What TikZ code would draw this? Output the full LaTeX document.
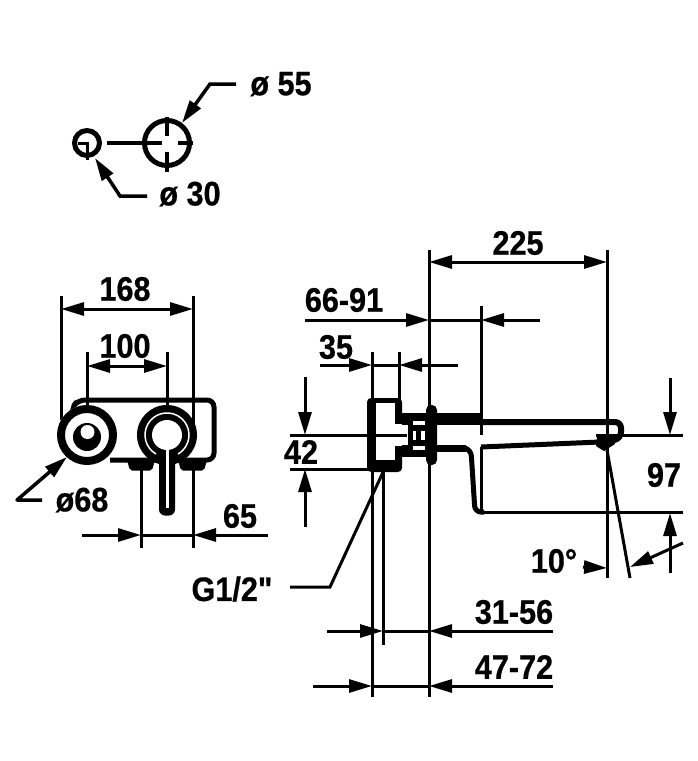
\documentclass[tikz,border=0pt]{standalone}
\usepackage{fontspec}
\newfontfamily\dimf{Liberation Sans}[FakeStretch=0.9,BoldFeatures={FakeBold=0.6}]
\usetikzlibrary{arrows.meta}
\tikzset{
  dimline/.style={line width=3pt,line cap=butt},
  tip/.style={-{Triangle[length=23pt,width=13pt]}},
  tips/.style={{Triangle[length=23pt,width=13pt]}-{Triangle[length=23pt,width=13pt]}},
  lbl/.style={font=\fontsize{34}{34}\dimf\bfseries,inner sep=0pt,text=black},
}
\begin{document}
\begin{tikzpicture}[x=1pt,y=-1pt]
\useasboundingbox (0,0) rectangle (698,761);
\fill[white] (0,0) rectangle (698,761);
% --- top: hole pattern
\coordinate (bc) at (167,143); \coordinate (sc) at (87,143);
\coordinate (k1) at (210,84); \coordinate (k2) at (236,84);
\coordinate (k3) at (120,196); \coordinate (k4) at (147,196);
\draw[line width=5pt] (bc) circle (22.5);
\draw[line width=5pt] (sc) circle (12.5);
\draw[line width=3.5pt] (107,143) -- (162,143);
\draw[line width=3.5pt] (178,143) -- (193,143);
\draw[line width=3.5pt] (167,117) -- (167,136);
\draw[line width=3.5pt] (167,152) -- (167,172);
\draw[dimline] (78,143) -- (88.5,143) (87,143) -- (87,160);
\draw[line width=3.5pt,tip] (k2) -- (k1) -- (182,123);
\draw[line width=3.5pt,tip] (k4) -- (k3) -- (95,158);
\node[lbl] (d55) at (281,84) {ø 55};
\node[lbl] (d30) at (190,194) {ø 30};
% --- left view
\draw[dimline] (61,296) -- (61,420);
\draw[dimline] (193,296) -- (193,425);
\draw[dimline] (87,352) -- (87,405);
\draw[dimline] (167,352) -- (167,410);
\draw[dimline,tips] (61,309) -- (193,309);
\draw[dimline,tips] (87,366) -- (167,366);
\node[lbl] (t168) at (125,289) {168};
\node[lbl] (t100) at (125,346) {100};
% body
\draw[line width=5pt,line join=round,rounded corners=7pt] (72,415) -- (72,408) -- (78,400) -- (214,400) -- (214,460) -- (110,460);
\fill[rounded corners=2pt] (127,460) -- (155,460) -- (152,470.5) -- (130,470.5) -- cycle;
\fill[rounded corners=2pt] (178,460) -- (207,460) -- (204,470.5) -- (181,470.5) -- cycle;
% left circle
\fill[white] (87,435) circle (30);
\draw[line width=8pt] (87,435) circle (26);
\fill (87,437) circle (14);
\fill[white] (87.5,432) circle (7);
% right circle + handle
\fill (167,435) circle (30);
\draw[white,line width=1.5pt] (156,454) arc[start angle=120,end angle=420,radius=22] ;
\fill[rounded corners=6pt] (159,450) -- (159,515.5) -- (175,515.5) -- (175,450) -- cycle;
\fill[white] (167,435) circle (15);
\fill[white] (165.5,445) rectangle (168.5,508);
% extension
\draw[dimline] (141,465) -- (141,548);
\draw[dimline] (193,465) -- (193,548);
\draw[dimline,tip] (82,535) -- (141,535);
\draw[dimline,tip] (268,535) -- (193,535);
\draw[dimline] (141,535) -- (193,535);
\node[lbl] (t65) at (240,516) {65};
\draw[line width=3.5pt,line join=round,tip] (42,500) -- (17,500) -- (67,457);
\node[lbl] (t68) at (82,500) {ø68};
% --- right view
\draw[dimline] (429,250) -- (429,697);
\draw[dimline] (607,250) -- (607,578);
\draw[dimline] (481,306) -- (481,435);
\draw[dimline] (372,352) -- (372,697);
\draw[dimline] (399,352) -- (399,405);
\draw[dimline] (383,470) -- (383,645);
\draw[dimline,tips] (429,262) -- (607,262);
\node[lbl] (t225) at (518,243) {225};
\draw[dimline,tip] (305,320) -- (429,320);
\draw[dimline,tip] (540,320) -- (481,320);
\draw[dimline] (429,320) -- (481,320);
\node[lbl] (t6691) at (344,300) {66-91};
\draw[dimline,tip] (320,365) -- (372,365);
\draw[dimline,tip] (458,365) -- (399,365);
\draw[dimline] (372,365) -- (399,365);
\node[lbl] (t35) at (336,347) {35};
\draw[dimline] (290,435) -- (372,435);
\draw[dimline] (290,469) -- (372,469);
\draw[dimline,tip] (305,377) -- (305,435);
\draw[dimline,tip] (305,527) -- (305,469);
\node[lbl] (t42) at (301,452) {42};
% wall body
\fill[rounded corners=4pt] (367,398) rectangle (402,472);
\fill[white] (376,403) rectangle (395,460);
\fill[white] (395,424) rectangle (402.5,446);
\draw[dimline] (372,435) -- (407,435);
% connection
\fill (402,413) rectangle (481,425);
\fill (402,445) rectangle (426,457);
\fill (408,413) rectangle (426,457);
\fill (437,445) rectangle (466,452);
\fill[white] (413,421) rectangle (425,425);
\fill[white] (412.5,431) rectangle (415.5,440);
\fill[white] (421,431) rectangle (425,440);
\fill[white] (413,446) rectangle (425,450);
\fill[rounded corners=5pt] (426,405) rectangle (437,465);
% spout
\draw[line width=6pt,rounded corners=6pt] (481,422) -- (621,422) -- (621,438) -- (607,442);
\draw[line width=5pt] (481,447) -- (600,442);
\fill (597,437) -- (612,434) -- (615,444) -- (604,451) -- (596,446) -- cycle;
\draw[line width=5pt,rounded corners=6pt] (465,448) -- (471,450) -- (475,512) -- (484,512);
\draw[dimline] (481,447) -- (481,512);
\draw[dimline] (596,435) -- (683,435);
\draw[dimline] (482,512) -- (683,512);
\draw[dimline,tip] (670,378) -- (670,435);
\draw[dimline,tip] (670,573) -- (670,513);
\node[lbl] (t97) at (664,475) {97};
\draw[dimline] (607,450) -- (630,578);
\draw[dimline,tip] (683,543) -- (630,567);
\draw[dimline,tip] (583,567) -- (607,568);
\node[lbl] (t10) at (554,561) {10°};
\draw[dimline,tip] (327,631) -- (383,631);
\draw[dimline,tip] (553,631) -- (429,631);
\draw[dimline] (383,631) -- (429,631);
\node[lbl] (t3156) at (514,612) {31-56};
\draw[dimline,tip] (313,686) -- (372,686);
\draw[dimline,tip] (553,686) -- (429,686);
\draw[dimline] (372,686) -- (429,686);
\node[lbl] (t4772) at (514,667) {47-72};
\node[lbl] (tg) at (232,589) {G1/2"};
\draw[dimline] (290,587) -- (330,587) -- (384,470);
\end{tikzpicture}
\end{document}
